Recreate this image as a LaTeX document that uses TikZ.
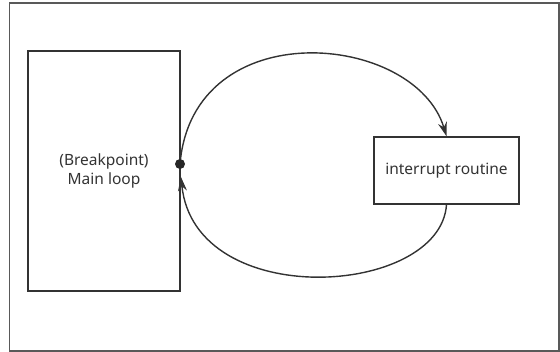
\documentclass[tikz,border=0pt]{standalone}
\usepackage{fontspec}
\setmainfont{Noto Sans}
\usetikzlibrary{arrows.meta}
\begin{document}
\begin{tikzpicture}[x=1pt,y=1pt,
  blk/.style={draw=black!80,line width=1.5pt,fill=white,inner sep=0pt,text=black!80,font=\fontsize{15.5}{19}\selectfont,align=center},
  flow/.style={draw=black!80,line width=1.4pt,-{Stealth[length=14pt,width=9pt]}}]
\useasboundingbox (0,0) rectangle (560,352);
\draw[black!65,line width=1.4pt] (9.5,1) rectangle (559,349);
\node[blk,minimum width=152pt,minimum height=240pt] (mainbox) at (104,181) {(Breakpoint)\\Main loop};
\node[blk,minimum width=145pt,minimum height=67pt] (irqbox) at (446.5,181.5) {interrupt routine};
\coordinate (brk) at (180,188);\coordinate (ret) at (181,175);
\draw[flow] (brk) .. controls (193,340) and (415,320) .. (irqbox.north);
\draw[flow] (irqbox.south) .. controls (440,55) and (195,40) .. (ret);
\fill[black!85] (brk) circle (5pt);
\end{tikzpicture}
\end{document}
